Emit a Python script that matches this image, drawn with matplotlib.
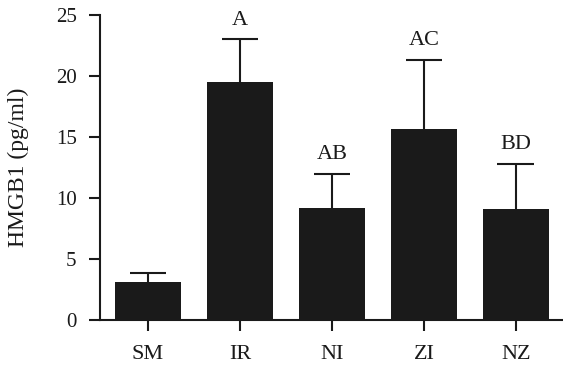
import matplotlib
matplotlib.use('Agg')
import matplotlib.pyplot as plt

# Data
groups = ['SM', 'IR', 'NI', 'ZI', 'NZ']
means = [3.1, 19.5, 9.2, 15.65, 9.1]
sd_upper = [0.75, 3.5, 2.8, 5.65, 3.7]
letters = ['', 'A', 'AB', 'AC', 'BD']

plt.rcParams['font.family'] = ['Liberation Serif', 'DejaVu Serif']
ink = '#1a1a1a'

fig = plt.figure(figsize=(5.63, 3.71), dpi=100)
ax = fig.add_axes([0.178, 0.137, 0.82, 0.823])

x = list(range(len(groups)))
tops = [m + e for m, e in zip(means, sd_upper)]
ax.bar(x, means, width=0.72, color=ink, zorder=2)
# upper-only error bars: stem from bar top plus cap
ax.vlines(x, means, tops, color=ink, linewidth=1.5, zorder=1)
ax.hlines(tops, [xi - 0.2 for xi in x], [xi + 0.2 for xi in x],
          color=ink, linewidth=1.5, zorder=1)

# significance letters above the error caps
for xi, t, lab in zip(x, tops, letters):
    if lab:
        ax.annotate(lab, (xi, t), xytext=(0, 7), textcoords='offset points',
                    ha='center', va='bottom', fontsize=16, color=ink)

ax.set_xlim(-0.52, 4.5)
ax.set_ylim(0, 25)
ax.set_yticks([0, 5, 10, 15, 20, 25])
ax.set_xticks(x)
ax.set_xticklabels(groups)
ax.set_ylabel('HMGB1 (pg/ml)', fontsize=17, color=ink, labelpad=19)

for s in ['top', 'right']:
    ax.spines[s].set_visible(False)
for s in ['left', 'bottom']:
    ax.spines[s].set_linewidth(1.5)
    ax.spines[s].set_color(ink)
ax.tick_params(axis='both', length=8, width=1.5, color=ink, labelcolor=ink)
ax.tick_params(axis='x', labelsize=16, pad=10)
ax.tick_params(axis='y', labelsize=15, pad=9)

fig.savefig('out.png', dpi=100)
